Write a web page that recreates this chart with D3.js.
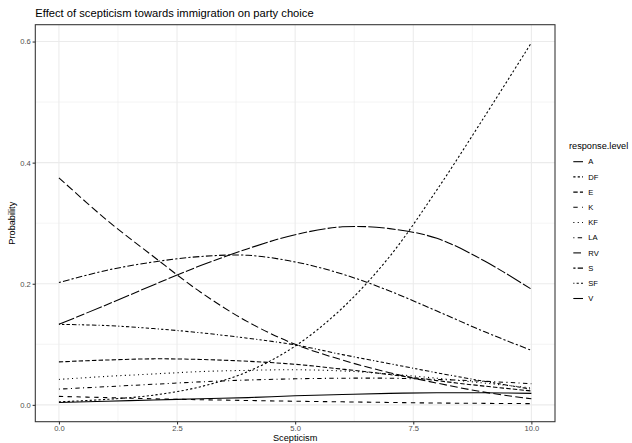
<!DOCTYPE html>
<html>
<head>
<meta charset="utf-8">
<script src="https://cdn.jsdelivr.net/npm/d3@7"></script>
<style>
  html, body { margin: 0; padding: 0; background: #fff; }
  text { font-family: "Liberation Sans", Arial, Helvetica, sans-serif; }
</style>
</head>
<body>
<svg id="chart" width="632" height="443"></svg>
<script>
// Predicted probability of party choice by level of scepticism
const scepticism = [0, 1, 2, 3, 4, 5, 6, 7, 8, 9, 10];
const parties = ["A", "DF", "E", "K", "KF", "LA", "RV", "S", "SF", "V"];

const probA  = [0.004, 0.006, 0.008, 0.010, 0.012, 0.015, 0.017, 0.019, 0.020, 0.020, 0.019];
const probDF = [0.005, 0.009, 0.016, 0.030, 0.055, 0.097, 0.160, 0.245, 0.355, 0.475, 0.598];
const probE  = [0.071, 0.074, 0.076, 0.075, 0.072, 0.067, 0.059, 0.050, 0.040, 0.031, 0.023];
const probK  = [0.014, 0.012, 0.010, 0.0085, 0.0072, 0.006, 0.005, 0.004, 0.003, 0.0025, 0.002];
const probKF = [0.042, 0.047, 0.051, 0.055, 0.057, 0.058, 0.056, 0.051, 0.044, 0.036, 0.028];
const probLA = [0.026, 0.030, 0.034, 0.038, 0.041, 0.043, 0.044, 0.044, 0.042, 0.039, 0.035];
const probRV = [0.375, 0.306, 0.245, 0.186, 0.137, 0.100, 0.074, 0.053, 0.036, 0.021, 0.010];
const probS  = [0.202, 0.222, 0.236, 0.245, 0.247, 0.236, 0.216, 0.188, 0.155, 0.121, 0.090];
const probSF = [0.133, 0.131, 0.126, 0.119, 0.110, 0.099, 0.083, 0.068, 0.053, 0.039, 0.026];
const probV  = [0.133, 0.165, 0.198, 0.230, 0.258, 0.281, 0.294, 0.291, 0.275, 0.238, 0.191];

const xTicks = [0, 2.5, 5, 7.5, 10];
const yTicks = [0, 0.2, 0.4, 0.6];

const seriesValues = {
  A: probA, DF: probDF, E: probE, K: probK, KF: probKF,
  LA: probLA, RV: probRV, S: probS, SF: probSF, V: probV
};

// ggplot-style linetype sequence (hex digit run lengths)
const linetypes = ["", "22", "42", "44", "13", "1343", "73", "2262", "12223242", "F282"];
const dashUnit = 1.1;
function dashArray(code) {
  if (!code) return null;
  return code.split("").map(c => parseInt(c, 16) * dashUnit).join(",");
}

const svg = d3.select("#chart");
const W = 632, H = 443;
const panel = { left: 35.3, top: 24.7, right: 555, bottom: 421.7 };

// continuous scales with 5% expansion on each side
const xMin = d3.min(scepticism), xMax = d3.max(scepticism);
const xPad = (xMax - xMin) * 0.05;
const x = d3.scaleLinear().domain([xMin - xPad, xMax + xPad]).range([panel.left, panel.right]);

const allVals = parties.flatMap(p => seriesValues[p]);
const yMinV = d3.min(allVals), yMaxV = d3.max(allVals);
const yPad = (yMaxV - yMinV) * 0.05;
const y = d3.scaleLinear().domain([yMinV - yPad, yMaxV + yPad]).range([panel.bottom, panel.top]);

svg.append("rect").attr("width", W).attr("height", H).attr("fill", "#fff");

// grid
const g = svg.append("g");
const xMinor = xTicks.slice(0, -1).map((t, i) => (t + xTicks[i + 1]) / 2);
const yMinor = yTicks.slice(0, -1).map((t, i) => (t + yTicks[i + 1]) / 2);
g.selectAll(".xminor").data(xMinor).join("line")
  .attr("x1", d => x(d)).attr("x2", d => x(d))
  .attr("y1", panel.top).attr("y2", panel.bottom)
  .attr("stroke", "#EBEBEB").attr("stroke-width", 0.53);
g.selectAll(".yminor").data(yMinor).join("line")
  .attr("y1", d => y(d)).attr("y2", d => y(d))
  .attr("x1", panel.left).attr("x2", panel.right)
  .attr("stroke", "#EBEBEB").attr("stroke-width", 0.53);
g.selectAll(".xmajor").data(xTicks).join("line")
  .attr("x1", d => x(d)).attr("x2", d => x(d))
  .attr("y1", panel.top).attr("y2", panel.bottom)
  .attr("stroke", "#EBEBEB").attr("stroke-width", 1.07);
g.selectAll(".ymajor").data(yTicks).join("line")
  .attr("y1", d => y(d)).attr("y2", d => y(d))
  .attr("x1", panel.left).attr("x2", panel.right)
  .attr("stroke", "#EBEBEB").attr("stroke-width", 1.07);

// series lines
const line = d3.line()
  .x((d, i) => x(scepticism[i]))
  .y(d => y(d))
  .curve(d3.curveCatmullRom.alpha(0.5));

const lines = svg.append("g");
parties.forEach((p, i) => {
  lines.append("path")
    .attr("d", line(seriesValues[p]))
    .attr("fill", "none")
    .attr("stroke", "#000")
    .attr("stroke-width", 1.07)
    .attr("stroke-dasharray", dashArray(linetypes[i]));
});

// panel border
svg.append("rect")
  .attr("x", panel.left).attr("y", panel.top)
  .attr("width", panel.right - panel.left).attr("height", panel.bottom - panel.top)
  .attr("fill", "none").attr("stroke", "#333333").attr("stroke-width", 1.07);

// axes
const fmt = d3.format(".1f");
const xAxis = d3.axisBottom(x).tickValues(xTicks).tickFormat(fmt).tickSize(2.7).tickPadding(1.6);
const yAxis = d3.axisLeft(y).tickValues(yTicks).tickFormat(fmt).tickSize(2.7).tickPadding(1.8);

const gx = svg.append("g").attr("transform", `translate(0,${panel.bottom})`).call(xAxis);
const gy = svg.append("g").attr("transform", `translate(${panel.left},0)`).call(yAxis);
[gx, gy].forEach(ax => {
  ax.select(".domain").remove();
  ax.selectAll(".tick line").attr("stroke", "#333333").attr("stroke-width", 1.07);
  ax.selectAll(".tick text").attr("fill", "#4D4D4D").attr("font-size", 7.6)
    .attr("font-family", "'Liberation Sans', Arial, sans-serif");
});

// titles
svg.append("text").attr("x", panel.left).attr("y", 17)
  .attr("font-size", 11.2).attr("fill", "#000")
  .text("Effect of scepticism towards immigration on party choice");

svg.append("text").attr("x", (panel.left + panel.right) / 2).attr("y", 440.5)
  .attr("text-anchor", "middle").attr("font-size", 9.2).attr("fill", "#000")
  .text("Scepticism");

svg.append("text")
  .attr("transform", `translate(15,${(panel.top + panel.bottom) / 2}) rotate(-90)`)
  .attr("text-anchor", "middle").attr("font-size", 9.2).attr("fill", "#000")
  .text("Probability");

// legend
const leg = svg.append("g");
leg.append("text").attr("x", 569).attr("y", 148.5)
  .attr("font-size", 9.2).attr("fill", "#000").text("response.level");
const keyStep = 15.2, keyTop = 161.7;
parties.forEach((p, i) => {
  const cy = keyTop + i * keyStep;
  leg.append("line")
    .attr("x1", 573.3).attr("x2", 583)
    .attr("y1", cy).attr("y2", cy)
    .attr("stroke", "#000").attr("stroke-width", 1.07)
    .attr("stroke-dasharray", dashArray(linetypes[i]));
  leg.append("text").attr("x", 588.3).attr("y", cy + 2.7)
    .attr("font-size", 7.6).attr("fill", "#000").text(p);
});
</script>
</body>
</html>
